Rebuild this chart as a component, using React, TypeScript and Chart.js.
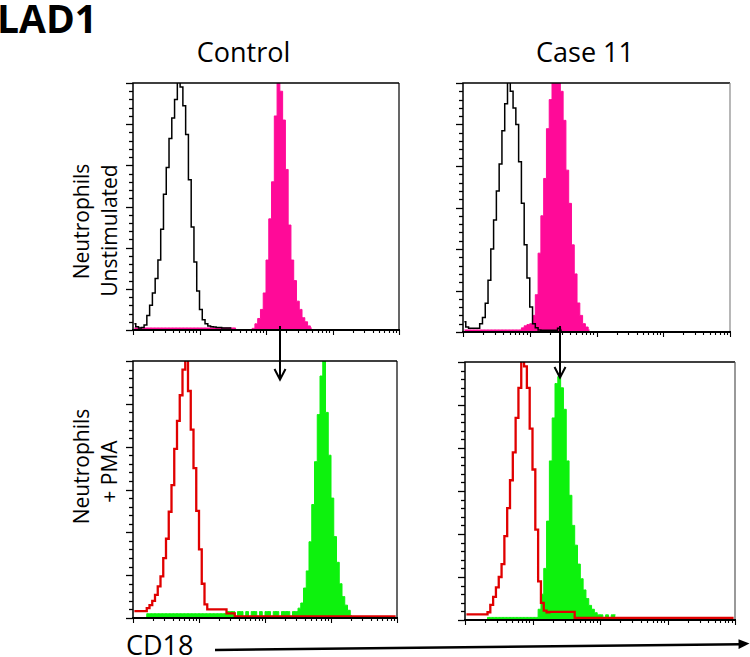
import React, { useEffect, useRef } from 'react';
import { Chart, registerables } from 'chart.js';

Chart.register(...registerables);

// ---------- Data (histogram counts per log channel, 24 channels per decade, 10^0..10^4) ----------
const CHANNELS_PER_DECADE = 24;
const X_MIN = 1;
const X_MAX = 10000;
const Y_MAX = 60;
const Y_MAJOR = 10;
const Y_MINOR = 2;
const DECADES = [1, 10, 100, 1000, 10000];
const MINOR_MULTIPLIERS = [2, 3, 4, 5, 6, 7, 8, 9];

const figureTitle = 'LAD1';
const columnTitles = ['Control', 'Case 11'];
const rowLabels = [
  ['Neutrophils', 'Unstimulated'],
  ['Neutrophils', '+ PMA'],
];
const axisLabel = 'CD18';

// Control, unstimulated: isotype (black outline)
const controlUnstimIsotype = [
  1.5, 0.8, 0.5, 0.6, 1.2, 3.5, 6, 9, 12.5, 17,
  24.5, 33, 39.5, 46.5, 51.5, 56, 61, 59, 54.5, 47.5,
  36.5, 25, 16.5, 9.5, 5, 2.5, 1.5, 1, 0.8, 0.7,
  0.6, 0.6, 0.5, 0.5, 0.5, 0.5,
];
// Control, unstimulated: CD18 (pink filled)
const controlUnstimCD18 = [
  0.5, 0.5, 0.5, 0.5, 0.5, 0.5, 0.5, 0.5, 0.5, 0.5,
  0.5, 0.5, 0.5, 0.5, 0.5, 0.5, 0.5, 0.5, 0.5, 0.5,
  0.5, 0.5, 0.5, 0.5, 0.5, 0.5, 0.5, 0.5, 0.5, 0.5,
  0.5, 0.5, 0.5, 0.5, 0.5, 0.5, 0.5, 0, 0, 0,
  0, 0, 0, 0.4, 1.5, 2.8, 5, 9, 17, 27,
  36, 52, 61, 58, 51, 39, 25.5, 17, 12, 7,
  5, 3, 2, 1, 0.5,
];
// Case 11, unstimulated: isotype (black outline)
const caseUnstimIsotype = [
  2.5, 1.2, 0.9, 0.9, 0.9, 0.9, 2, 3.5, 6.9, 12.5,
  20, 27, 34, 40.5, 48.5, 55, 60.5, 58, 54, 50,
  41, 31, 21, 13, 6, 2, 1, 0.5, 0.4, 0.4,
  0.4, 0.4, 0.4, 0.4, 0.9, 0.4,
];
// Case 11, unstimulated: CD18 (pink filled)
const caseUnstimCD18 = [
  0.5, 0.5, 0.5, 0.5, 0.5, 0.5, 0.5, 0.5, 0.5, 0.5,
  0.5, 0.5, 0.5, 0.5, 0.5, 0.5, 0.5, 0.5, 0.5, 0.5,
  0.5, 1, 1.5, 1.8, 2, 4, 9, 19, 28, 37,
  49, 56, 60.5, 61, 61, 58, 51, 39, 31, 21,
  14, 7, 4, 2, 1.2, 0.5,
];
// Control + PMA: isotype (red outline)
const controlPmaIsotype = [
  1.6, 1.6, 1.6, 1.6, 1.6, 2.3, 3, 4, 5.4, 7.4,
  9.7, 14, 18.5, 24.8, 31, 39.5, 46, 52, 58, 61,
  53, 44, 35, 25, 16, 8, 3.2, 2, 2, 2,
  2, 2, 2, 2, 1.1, 1.1, 1.1, 0.4, 0.4, 0.4,
  0.4, 0.4, 0.4, 0.4, 0.4, 0.4, 0.4, 0.4, 0.4, 0.4,
  0.4, 0.4, 0.4, 0.4, 0.4, 0.4, 0.4, 0.4, 0.4, 0.4,
  0.4, 0.4, 0.4, 0.4, 0.4, 0.4, 0.4, 0.4, 0.4, 0.4,
  0.4, 0.4, 0.4, 0.4, 0.4, 0.4, 0.4, 0.4, 0.4, 0.4,
  0.4, 0.4, 0.4, 0.4, 0.4, 0.4, 0.4, 0.4, 0.4, 0.4,
  0.4, 0.4, 0.4, 0.4, 0.4, 0.4,
];
// Control + PMA: CD18 (green filled)
const controlPmaCD18 = [
  0, 0, 0, 0, 0, 1, 1, 1, 1, 1,
  1, 1, 1, 1, 1, 1, 1, 1, 1, 1,
  1, 1, 1, 1, 1, 1, 1, 1, 1, 1,
  1, 1, 1, 1, 1.5, 1.5, 1.5, 0.4, 1.5, 1.5,
  0.4, 1.5, 0.4, 1.5, 1.5, 0.4, 1.5, 0.4, 1.5, 1.5,
  0.4, 1.5, 1.5, 0.4, 1.5, 1.5, 1.5, 0.4, 1.5, 1.5,
  2.3, 3.5, 7, 11, 17.8, 26.5, 36.5, 47.5, 56.5, 61,
  48, 38, 28, 19, 13, 8, 5, 3, 1.8, 0.6,
];
// Case 11 + PMA: isotype (red outline)
const casePmaIsotype = [
  1.3, 1.3, 1.3, 1.3, 1.3, 1.3, 1.3, 1.3, 1.8, 3.5,
  5.4, 7.6, 10, 13, 19.5, 26, 32.5, 39, 47, 54,
  61, 59, 54, 44.5, 35, 21, 9, 4, 2.2, 1.8,
  1.9, 1.9, 1.9, 1.9, 1.9, 1.9, 1.9, 1.9, 1.9, 0.5,
  0.5, 0.5, 0.5, 0.5, 0.5, 0.5, 0.5, 0.5, 0.5, 0.5,
  0.5, 0.5, 0.5, 0.5, 0.5, 0.5, 0.5, 0.5, 0.5, 0.5,
  0.5, 0.5, 0.5, 0.5, 0.5, 0.5, 0.5, 0.5, 0.5, 0.5,
  0.5, 0.5, 0.5, 0.5, 0.5, 0.5, 0.5, 0.5, 0.5, 0.5,
  0.5, 0.5, 0.5, 0.5, 0.5, 0.5, 0.5, 0.5, 0.5, 0.5,
  0.5, 0.5, 0.5, 0.5, 0.5, 0.5,
];
// Case 11 + PMA: CD18 (green filled)
const casePmaCD18 = [
  0, 0, 0, 0, 0, 0, 0, 0, 0.6, 0.6,
  0.6, 0.6, 0.6, 0.6, 0.6, 0.6, 0.6, 0.6, 0.6, 0.6,
  0.6, 0.6, 0.6, 0.6, 0.6, 0.6, 2.5, 6, 12, 23,
  37, 47, 55, 56.6, 54, 49, 37, 29, 22, 17.4,
  13, 9.6, 7, 5, 3.4, 2.5, 1.7, 1.2, 1.2, 0.3,
  1.2, 0.3, 1.2, 1.2,
];

// ---------- Styling / layout ----------
const FONT = "'Open Sans', 'DejaVu Sans', sans-serif";
const PINK = '#ff0a98';
const GREEN = '#0df20d';
const RED = '#e00000';
const PAD = { l: 12, t: 4, r: 4, b: 8 };

const channelValue = (i: number) => Math.pow(10, (i + 0.5) / CHANNELS_PER_DECADE);
const toPoints = (vals: number[]) => vals.map((v, i) => ({ x: channelValue(i), y: v }));

type Rect = { left: number; top: number; width: number; height: number };

const panels: {
  key: string;
  rect: Rect;
  outline: number[];
  filled: number[];
  outlineColor: string;
  outlineWidth: number;
  fillColor: string;
  rightColor: string;
}[] = [
  { key: 'tl', rect: { left: 133, top: 83, width: 266, height: 247 }, outline: controlUnstimIsotype, filled: controlUnstimCD18, outlineColor: '#000', outlineWidth: 1.5, fillColor: PINK, rightColor: '#000' },
  { key: 'tr', rect: { left: 463, top: 83, width: 267, height: 249 }, outline: caseUnstimIsotype, filled: caseUnstimCD18, outlineColor: '#000', outlineWidth: 1.5, fillColor: PINK, rightColor: '#888' },
  { key: 'bl', rect: { left: 133, top: 361, width: 264, height: 257 }, outline: controlPmaIsotype, filled: controlPmaCD18, outlineColor: RED, outlineWidth: 2.3, fillColor: GREEN, rightColor: '#000' },
  { key: 'br', rect: { left: 465, top: 362, width: 270, height: 258 }, outline: casePmaIsotype, filled: casePmaCD18, outlineColor: RED, outlineWidth: 2.3, fillColor: GREEN, rightColor: '#555' },
];

function makeFramePlugin(rightColor: string) {
  return {
    id: 'frame',
    afterDatasetsDraw(chart: any) {
      const { ctx, chartArea: a, scales } = chart;
      const x = scales.x;
      const y = scales.y;
      ctx.save();
      ctx.strokeStyle = '#000';
      // y ticks (outward, left)
      ctx.lineWidth = 1.3;
      for (let v = 0; v <= Y_MAX; v += Y_MINOR) {
        const py = Math.round(y.getPixelForValue(v)) + 0.5;
        const len = v % Y_MAJOR === 0 ? 7 : 4;
        ctx.beginPath();
        ctx.moveTo(a.left - len, py);
        ctx.lineTo(a.left, py);
        ctx.stroke();
      }
      // x ticks (outward, below)
      ctx.lineWidth = 1.1;
      DECADES.forEach((d, di) => {
        const px0 = Math.round(x.getPixelForValue(d)) + 0.5;
        ctx.beginPath();
        ctx.moveTo(px0, a.bottom);
        ctx.lineTo(px0, a.bottom + 5);
        ctx.stroke();
        if (di < DECADES.length - 1) {
          MINOR_MULTIPLIERS.forEach((m) => {
            const px = Math.round(x.getPixelForValue(d * m)) + 0.5;
            ctx.beginPath();
            ctx.moveTo(px, a.bottom);
            ctx.lineTo(px, a.bottom + 3);
            ctx.stroke();
          });
        }
      });
      // frame
      ctx.lineWidth = 1.5;
      ctx.beginPath();
      ctx.moveTo(a.left, a.bottom);
      ctx.lineTo(a.left, a.top);
      ctx.lineTo(a.right, a.top);
      ctx.stroke();
      ctx.strokeStyle = rightColor;
      ctx.lineWidth = 1.2;
      ctx.beginPath();
      ctx.moveTo(a.right, a.top);
      ctx.lineTo(a.right, a.bottom);
      ctx.stroke();
      ctx.strokeStyle = '#000';
      ctx.lineWidth = 2.2;
      ctx.beginPath();
      ctx.moveTo(a.left - 1, a.bottom);
      ctx.lineTo(a.right + 1, a.bottom);
      ctx.stroke();
      ctx.restore();
    },
  };
}

function Histogram(props: (typeof panels)[number]) {
  const ref = useRef<HTMLCanvasElement>(null);
  const { rect } = props;
  const w = rect.width + PAD.l + PAD.r;
  const h = rect.height + PAD.t + PAD.b;
  useEffect(() => {
    const chart = new Chart(ref.current as HTMLCanvasElement, {
      type: 'line',
      data: {
        datasets: [
          {
            data: toPoints(props.outline),
            borderColor: props.outlineColor,
            borderWidth: props.outlineWidth,
            stepped: 'middle',
            pointRadius: 0,
            fill: false,
          },
          {
            data: toPoints(props.filled),
            borderColor: props.fillColor,
            backgroundColor: props.fillColor,
            borderWidth: 1,
            stepped: 'middle',
            pointRadius: 0,
            fill: 'origin',
          },
        ],
      } as any,
      options: {
        animation: false,
        responsive: false,
        maintainAspectRatio: false,
        events: [],
        layout: { padding: { left: PAD.l, top: PAD.t, right: PAD.r, bottom: PAD.b } },
        plugins: { legend: { display: false }, tooltip: { enabled: false } },
        scales: {
          x: { type: 'logarithmic', min: X_MIN, max: X_MAX, display: false },
          y: { type: 'linear', min: 0, max: Y_MAX, display: false },
        },
      } as any,
      plugins: [makeFramePlugin(props.rightColor)],
    });
    return () => chart.destroy();
  }, []);
  return (
    <canvas
      ref={ref}
      width={w}
      height={h}
      style={{ position: 'absolute', left: rect.left - PAD.l, top: rect.top - PAD.t, width: w, height: h }}
    />
  );
}

const textBase: React.CSSProperties = {
  position: 'absolute',
  fontFamily: FONT,
  color: '#000',
  whiteSpace: 'nowrap',
  margin: 0,
};

function Rotated({ text, cx, cy }: { text: string; cx: number; cy: number }) {
  return (
    <div
      style={{
        ...textBase,
        left: cx - 100,
        top: cy - 10.5,
        width: 200,
        height: 21,
        fontSize: 21,
        lineHeight: '21px',
        textAlign: 'center',
        transform: 'rotate(-90deg)',
      }}
    >
      {text}
    </div>
  );
}

export default function App() {
  return (
    <div style={{ position: 'absolute', left: 0, top: 0, width: 750, height: 657, background: '#fff', overflow: 'hidden' }}>
      <div style={{ ...textBase, left: -3, top: -1.6, fontSize: 39, fontWeight: 700, lineHeight: '39px' }}>{figureTitle}</div>
      <div style={{ ...textBase, left: 243.5 - 100, width: 200, textAlign: 'center', top: 38, fontSize: 27, lineHeight: '27px' }}>{columnTitles[0]}</div>
      <div style={{ ...textBase, left: 585 - 100, width: 200, textAlign: 'center', top: 38, fontSize: 27, lineHeight: '27px' }}>{columnTitles[1]}</div>

      <Rotated text={rowLabels[0][0]} cx={81} cy={221.5} />
      <Rotated text={rowLabels[0][1]} cx={109} cy={230} />
      <Rotated text={rowLabels[1][0]} cx={81} cy={466.5} />
      <Rotated text={rowLabels[1][1]} cx={109} cy={471} />

      {panels.map((p) => (
        <Histogram key={p.key} {...p} />
      ))}

      <div style={{ ...textBase, left: 126, top: 631, fontSize: 27, lineHeight: '27px' }}>{axisLabel}</div>

      <svg width={750} height={657} style={{ position: 'absolute', left: 0, top: 0, pointerEvents: 'none' }}>
        <g stroke="#000" strokeWidth={2} fill="none" strokeLinecap="butt">
          <line x1={280} y1={326} x2={280} y2={379} />
          <polyline points="274.5,369 280,379.5 285.5,369" />
          <line x1={560} y1={326} x2={560} y2={377} />
          <polyline points="554.5,367 560,377.5 565.5,367" />
        </g>
        <line x1={215} y1={650} x2={741} y2={644.3} stroke="#000" strokeWidth={2.5} />
        <polygon points="749.5,643.6 738.5,639.2 738.6,649" fill="#000" />
      </svg>
    </div>
  );
}
